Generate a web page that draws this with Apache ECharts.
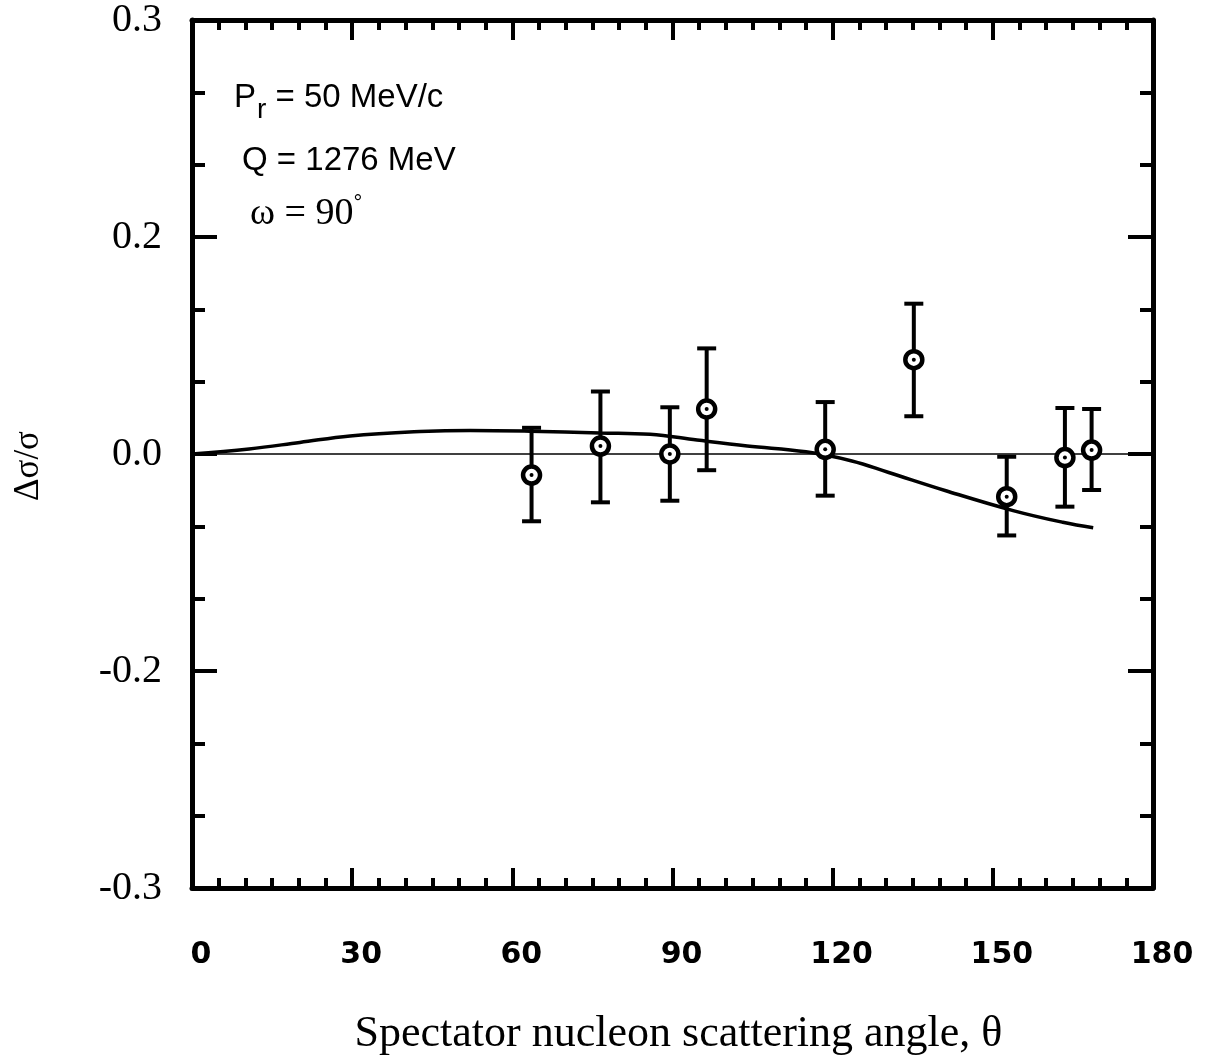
<!DOCTYPE html>
<html>
<head>
<meta charset="utf-8">
<script src="https://cdn.jsdelivr.net/npm/echarts@6/dist/echarts.min.js"></script>
<style>html,body{margin:0;padding:0;background:#fff}#c{width:1217px;height:1061px}</style>
</head>
<body>
<div id="c"></div>
<script>
// Measured data points (angle in degrees, Δσ/σ)
const angles    = [63.6, 76.5, 89.5, 96.4, 118.6, 135.2, 152.6, 163.5, 168.5];
const values    = [-0.0146, 0.0055, 0.0, 0.0311, 0.0032, 0.0652, -0.0295, -0.0025, 0.0027];
const errHigh   = [0.0181, 0.0432, 0.0323, 0.0730, 0.0359, 0.1039, -0.0019, 0.0318, 0.0311];
const errLow    = [-0.0465, -0.0334, -0.0323, -0.0112, -0.0288, 0.0261, -0.0563, -0.0364, -0.0249];
// Theory curve
const curveAngles = [0, 10.7, 20.2, 29.6, 42.7, 52.1, 63.3, 76.4, 85.8, 94.6, 104, 115, 123.6, 130.5, 141.2, 153.8, 163.1, 168.8];
const curveValues = [0, 0.0035, 0.008, 0.0125, 0.0155, 0.0163, 0.0158, 0.0146, 0.0137, 0.0096, 0.0055, 0.0015, -0.0048, -0.0128, -0.0254, -0.0391, -0.0472, -0.051];
// Tick labels
const xTickLabels = ['0', '30', '60', '90', '120', '150', '180'];
const yTickLabels = ['-0.3', '-0.2', '0.0', '0.2', '0.3'];

const chart = echarts.init(document.getElementById('c'), null, {renderer: 'canvas'});
const pts = angles.map((a, i) => [a, values[i], errLow[i], errHigh[i]]);
const curve = curveAngles.map((a, i) => [a, curveValues[i]]);

const frame = {onZero: false, lineStyle: {color: '#000', width: 5}};
const xCommon = {
  type: 'value', min: 0, max: 180, interval: 30,
  axisLine: {show: true, ...frame},
  splitLine: {show: false},
  axisTick: {show: true, inside: true, length: 20, lineStyle: {color: '#000', width: 4}},
  minorTick: {show: true, splitNumber: 6, length: 10, lineStyle: {color: '#000', width: 4}}
};
const yCommon = {
  type: 'value', min: -0.3, max: 0.3, interval: 0.15,
  axisLine: {show: true, ...frame},
  splitLine: {show: false},
  axisTick: {show: true, inside: true, length: 25, lineStyle: {color: '#000', width: 4}},
  minorTick: {show: true, splitNumber: 3, length: 13, lineStyle: {color: '#000', width: 4}}
};

chart.setOption({
  animation: false,
  backgroundColor: '#fff',
  grid: {left: 192, top: 16, width: 961, height: 874},
  xAxis: [
    Object.assign({}, xCommon, {
      position: 'bottom',
      axisLabel: {
        margin: 52, color: '#000', fontFamily: 'DejaVu Sans', fontWeight: 'bold', fontSize: 30,
        padding: [0, 0, 0, 18],
        formatter: (v, i) => xTickLabels[i]
      },
      name: 'Spectator nucleon scattering angle, θ', nameLocation: 'middle', nameGap: 124,
      nameTextStyle: {fontFamily: 'Liberation Serif', fontSize: 44, color: '#000', padding: [0, 0, 0, 12]}
    }),
    Object.assign({}, xCommon, {position: 'top', axisLabel: {show: false}})
  ],
  yAxis: [
    Object.assign({}, yCommon, {
      position: 'left',
      axisLabel: {
        margin: 30, color: '#000', fontFamily: 'Liberation Serif', fontSize: 40,
        formatter: (v, i) => yTickLabels[i]
      },
      name: 'Δσ/σ', nameLocation: 'middle', nameGap: 146, nameRotate: 90,
      nameTextStyle: {fontFamily: 'Liberation Serif', fontSize: 35, color: '#000', padding: [0, 24, 0, 0]}
    }),
    Object.assign({}, yCommon, {position: 'right', axisLabel: {show: false}})
  ],
  series: [
    {
      type: 'line', data: curve, smooth: 0.4, showSymbol: false, symbol: 'none',
      lineStyle: {color: '#000', width: 3.5}, z: 3,
      markLine: {
        silent: true, symbol: 'none', label: {show: false},
        lineStyle: {color: '#000', width: 1.6, type: 'solid'},
        data: [{yAxis: 0}]
      }
    },
    {
      type: 'custom', data: pts, z: 5,
      renderItem: function (params, api) {
        const x = api.value(0);
        const c = api.coord([x, api.value(1)]);
        const lo = api.coord([x, api.value(2)]);
        const hi = api.coord([x, api.value(3)]);
        const cap = 9.5;
        const ls = {stroke: '#000', lineWidth: 4};
        return {
          type: 'group',
          children: [
            {type: 'line', shape: {x1: hi[0], y1: hi[1], x2: lo[0], y2: lo[1]}, style: ls},
            {type: 'line', shape: {x1: hi[0] - cap, y1: hi[1], x2: hi[0] + cap, y2: hi[1]}, style: ls},
            {type: 'line', shape: {x1: lo[0] - cap, y1: lo[1], x2: lo[0] + cap, y2: lo[1]}, style: ls},
            {type: 'circle', shape: {cx: c[0], cy: c[1], r: 8.5}, style: {fill: '#fff', stroke: '#000', lineWidth: 4.5}},
            {type: 'circle', shape: {cx: c[0], cy: c[1], r: 2}, style: {fill: '#000'}}
          ]
        };
      }
    }
  ],
  graphic: [
    {type: 'text', left: 234, top: 81, style: {
      text: '{p|P}{s|r}{p| = 50 MeV/c}',
      rich: {
        p: {fontFamily: 'Liberation Sans', fontSize: 33, fill: '#000'},
        s: {fontFamily: 'Liberation Sans', fontSize: 28, fill: '#000', padding: [25, 0, 0, 1]}
      }
    }},
    {type: 'text', left: 242, top: 144, style: {
      text: 'Q = 1276 MeV', fontFamily: 'Liberation Sans', fontSize: 33, fill: '#000'
    }},
    {type: 'text', left: 250, top: 193, style: {
      text: '{w|ω = 90}{d|°}',
      rich: {
        w: {fontFamily: 'Liberation Serif', fontSize: 38, fill: '#000'},
        d: {fontFamily: 'Liberation Sans', fontSize: 22, fill: '#000', padding: [0, 0, 20, 0]}
      }
    }}
  ]
});
</script>
</body>
</html>
